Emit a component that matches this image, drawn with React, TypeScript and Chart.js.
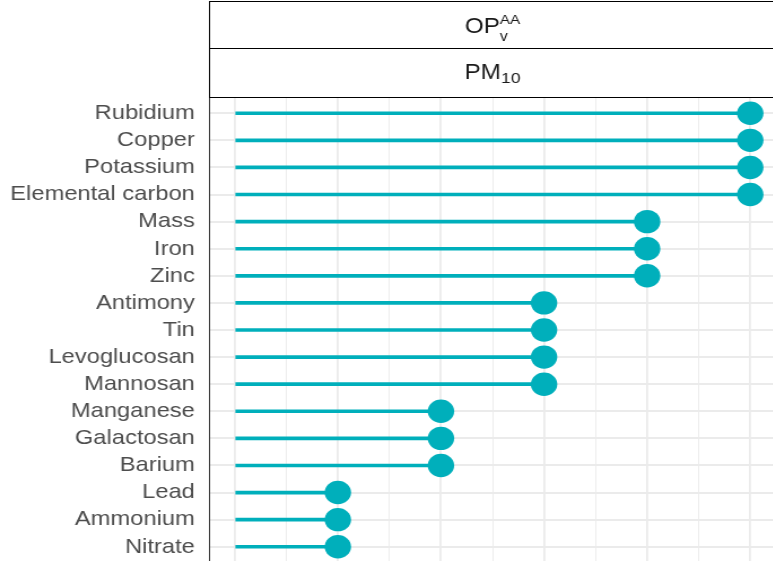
import React, { useEffect, useRef } from "react";
import { Chart, registerables } from "chart.js";

Chart.register(...registerables);

const categories = [
  "Rubidium",
  "Copper",
  "Potassium",
  "Elemental carbon",
  "Mass",
  "Iron",
  "Zinc",
  "Antimony",
  "Tin",
  "Levoglucosan",
  "Mannosan",
  "Manganese",
  "Galactosan",
  "Barium",
  "Lead",
  "Ammonium",
  "Nitrate",
];
const values = [5, 5, 5, 5, 4, 4, 4, 3, 3, 3, 3, 2, 2, 2, 1, 1, 1];
const xGridTicks = [0, 0.5, 1, 1.5, 2, 2.5, 3, 3.5, 4, 4.5, 5];

const TEAL = "#00AFBB";
const GRID = "#EBEBEB";
const FONT = "'Liberation Sans', Arial, Helvetica, sans-serif";

const W_INTERNAL = 687;
const H = 565;
const W_CSS = 776;

function drawMath(
  ctx: CanvasRenderingContext2D,
  cx: number,
  baseline: number,
  main: string,
  mainSize: number,
  sub: string,
  subSize: number,
  subDy: number,
  sup: string,
  supSize: number,
  supDy: number
) {
  ctx.font = `${mainSize}px ${FONT}`;
  const wMain = ctx.measureText(main).width;
  ctx.font = `${subSize}px ${FONT}`;
  const wSub = sub ? ctx.measureText(sub).width : 0;
  ctx.font = `${supSize}px ${FONT}`;
  const wSup = sup ? ctx.measureText(sup).width : 0;
  const total = wMain + Math.max(wSub, wSup);
  const x0 = cx - total / 2;
  ctx.fillStyle = "#1A1A1A";
  ctx.textAlign = "left";
  ctx.textBaseline = "alphabetic";
  ctx.font = `${mainSize}px ${FONT}`;
  ctx.fillText(main, x0, baseline);
  if (sub) {
    ctx.font = `${subSize}px ${FONT}`;
    ctx.fillText(sub, x0 + wMain, baseline + subDy);
  }
  if (sup) {
    ctx.font = `${supSize}px ${FONT}`;
    ctx.fillText(sup, x0 + wMain, baseline - supDy);
  }
}

const stripPlugin = {
  id: "strips",
  afterDraw(chart: any) {
    const { ctx, chartArea } = chart;
    const left = chartArea.left;
    const right = chart.width + 10;
    ctx.save();
    ctx.fillStyle = "#FFFFFF";
    ctx.fillRect(left, 0, right - left, 97);
    ctx.strokeStyle = "#000000";
    ctx.lineWidth = 1;
    ctx.beginPath();
    ctx.moveTo(left, 1.5);
    ctx.lineTo(right, 1.5);
    ctx.moveTo(left, 48.5);
    ctx.lineTo(right, 48.5);
    ctx.moveTo(left, 97.5);
    ctx.lineTo(right, 97.5);
    ctx.moveTo(Math.round(left) + 0.5, 1);
    ctx.lineTo(Math.round(left) + 0.5, 98);
    ctx.stroke();
    const cx = (chartArea.left + chartArea.right) / 2;
    drawMath(ctx, cx, 33.3, "OP", 21.5, "v", 14, 7.7, "AA", 13.5, 9);
    drawMath(ctx, cx, 79, "PM", 21.5, "10", 15.5, 4.3, "", 0, 0);
    ctx.restore();
  },
};

export default function App() {
  const ref = useRef<HTMLCanvasElement>(null);

  useEffect(() => {
    if (!ref.current) return;
    const points = values.map((v, i) => ({ x: v, y: i }));
    const chart = new Chart(ref.current, {
      type: "bar",
      data: {
        datasets: [
          {
            type: "bar",
            data: points,
            backgroundColor: TEAL,
            borderWidth: 0,
            barThickness: 3,
            order: 2,
          } as any,
          {
            type: "scatter",
            data: points,
            backgroundColor: TEAL,
            pointBackgroundColor: TEAL,
            pointBorderWidth: 0,
            pointRadius: 11.7,
            pointHoverRadius: 11.7,
            order: 1,
            clip: false,
          } as any,
        ],
      },
      options: {
        indexAxis: "y",
        responsive: false,
        maintainAspectRatio: false,
        animation: false,
        devicePixelRatio: 1,
        layout: {
          autoPadding: false,
          padding: { top: 97, bottom: 2, left: 0, right: 0 },
        },
        plugins: {
          legend: { display: false },
          tooltip: { enabled: false },
        },
        events: [],
        scales: {
          x: {
            type: "linear",
            min: -0.25,
            max: 5.25,
            offset: false,
            afterBuildTicks: (s: any) => {
              s.ticks = xGridTicks.map((v) => ({ value: v }));
            },
            ticks: { display: false },
            grid: {
              color: GRID,
              offset: false,
              lineWidth: (c: any) =>
                c.tick && Number.isInteger(c.tick.value) ? 1.8 : 0.9,
              drawTicks: false,
            },
            border: { display: false },
          },
          y: {
            type: "linear",
            reverse: true,
            min: -0.6,
            max: 16.6,
            offset: false,
            afterBuildTicks: (s: any) => {
              s.ticks = categories.map((_, i) => ({ value: i }));
            },
            afterFit: (s: any) => {
              s.width = 185;
              s.paddingTop = 0;
              s.paddingBottom = 0;
            },
            ticks: {
              autoSkip: false,
              padding: 12.5,
              color: "#4D4D4D",
              font: { family: FONT, size: 21 },
              callback: (v: any) => categories[v as number],
            },
            grid: { color: GRID, lineWidth: 2, drawTicks: false, offset: false },
            border: { display: true, color: "#333333", width: 1 },
          },
        },
      } as any,
      plugins: [stripPlugin],
    });
    return () => chart.destroy();
  }, []);

  return (
    <div
      style={{
        position: "fixed",
        left: 0,
        top: 0,
        width: 773,
        height: 561,
        overflow: "hidden",
        background: "#FFFFFF",
      }}
    >
      <canvas
        ref={ref}
        width={W_INTERNAL}
        height={H}
        style={{ width: `${W_CSS}px`, height: `${H}px`, display: "block" }}
      />
    </div>
  );
}
